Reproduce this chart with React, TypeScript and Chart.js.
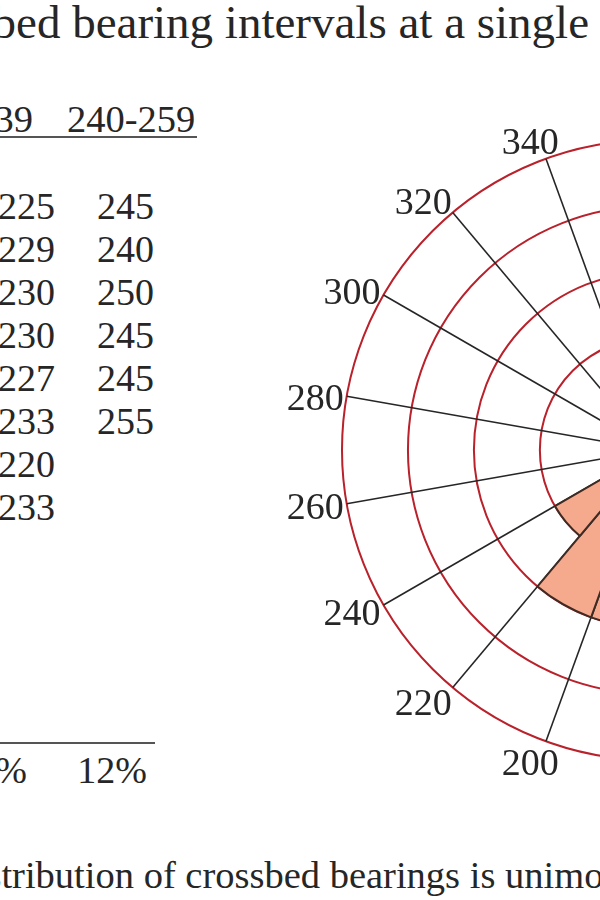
import React, { useEffect, useRef } from "react";
import { Chart, registerables } from "chart.js";

Chart.register(...registerables);

// ---------- data ----------
const bearingLabels = ["0", "20", "40", "60", "80", "100", "120", "140", "160", "180", "200", "220", "240", "260", "280", "300", "320", "340"];
// percentage of readings in each 20° sector (sector i starts at bearingLabels[i])
const sectorPercent: (number | null)[] = [null, null, null, null, null, null, null, null, null, 16, 16, 12, null, null, null, null, null, null];
const ringPercents = [8, 12, 16, 20, 24];
const scaleMinPercent = 5.2;
const scaleMaxPercent = 24;

const titleText = "Crossbed bearing intervals at a single location";
const tableHeaders = ["220-239", "240-259"];
const bearings220 = [225, 229, 230, 230, 227, 233, 220, 233];
const bearings240 = [245, 240, 250, 245, 245, 255];
const tablePercents = ["16%", "12%"];
const captionText = "The distribution of crossbed bearings is unimodal";

// ---------- styles ----------
const FONT = '"Liberation Serif", "Times New Roman", serif';
const TEXT = "#262626";
const RING = "#b9212b";
const SPOKE = "#262626";
const FILL = "#f5aa8d";
const EDGE = "#3d2b24";

type TProps = { x: number; base: number; size: number; align?: "left" | "right" | "center"; children: React.ReactNode };
function T({ x, base, size, align = "left", children }: TProps) {
  const tx = align === "right" ? "translateX(-100%)" : align === "center" ? "translateX(-50%)" : "none";
  return (
    <div
      style={{
        position: "absolute",
        left: x,
        top: base - 0.8375 * size,
        fontSize: size,
        lineHeight: `${size}px`,
        fontFamily: FONT,
        color: TEXT,
        whiteSpace: "nowrap",
        transform: tx,
      }}
    >
      {children}
    </div>
  );
}

const bearingLabelPlugin = {
  id: "bearingLabels",
  afterDatasetsDraw(chart: any) {
    const scale = chart.scales.r;
    const ctx = chart.ctx;
    const size = 38;
    ctx.save();
    ctx.font = `${size}px ${FONT}`;
    ctx.fillStyle = TEXT;
    ctx.textAlign = "center";
    ctx.textBaseline = "alphabetic";
    (chart.data.labels as string[]).forEach((lab, i) => {
      const tip = scale.getPointPosition(i, scale.drawingArea);
      const a = scale.getIndexAngle(i);
      const s = Math.sin(a);
      const c = Math.cos(a);
      const w = ctx.measureText(lab).width;
      const dx = Math.sign(s) * Math.min(w / 2 + 3, Math.abs(s) * 46);
      const dy = -Math.sign(c) * c * c * 22 + 1.5;
      ctx.fillText(lab, tip.x + dx, tip.y + dy + 0.338 * size);
    });
    ctx.restore();
  },
};

export default function App() {
  const ref = useRef<HTMLCanvasElement | null>(null);

  useEffect(() => {
    if (!ref.current) return;
    const chart = new Chart(ref.current, {
      type: "polarArea",
      data: {
        labels: bearingLabels,
        datasets: [
          {
            data: sectorPercent as any,
            backgroundColor: FILL,
            borderColor: EDGE,
            borderWidth: 2,
          },
        ],
      },
      options: {
        responsive: false,
        animation: false,
        layout: { padding: { left: 342, right: 342, top: 140, bottom: 140 } },
        plugins: { legend: { display: false }, tooltip: { enabled: false } },
        scales: {
          r: {
            min: scaleMinPercent,
            max: scaleMaxPercent,
            startAngle: 0,
            beginAtZero: false,
            ticks: { display: false, stepSize: 4 },
            afterBuildTicks: (s: any) => {
              s.ticks = [scaleMinPercent, ...ringPercents].map((v) => ({ value: v }));
            },
            grid: { circular: true, color: RING, lineWidth: 2 },
            angleLines: { display: true, color: SPOKE, lineWidth: 1.6 },
            pointLabels: { display: false },
          } as any,
        },
      },
      plugins: [bearingLabelPlugin],
    });
    return () => chart.destroy();
  }, []);

  const rowBase = 218.5;
  const rowStep = 43.1;
  const tableSize = 38;

  return (
    <div style={{ position: "fixed", left: 0, top: 0, width: 600, height: 900, overflow: "hidden", background: "#fff" }}>
      <T x={-114.5} base={38} size={47}>{titleText}</T>

      <T x={33} base={132.5} size={38.5} align="right">{tableHeaders[0]}</T>
      <T x={67} base={132.5} size={38.5}>{tableHeaders[1]}</T>
      <div style={{ position: "absolute", left: -10, top: 136, width: 207, height: 2, background: "#555" }} />

      {bearings220.map((v, i) => (
        <T key={"a" + i} x={55} base={rowBase + i * rowStep} size={tableSize} align="right">{String(v)}</T>
      ))}
      {bearings240.map((v, i) => (
        <T key={"b" + i} x={154} base={rowBase + i * rowStep} size={tableSize} align="right">{String(v)}</T>
      ))}

      <div style={{ position: "absolute", left: -10, top: 742, width: 165, height: 2, background: "#555" }} />
      <T x={27} base={783} size={tableSize} align="right">{tablePercents[0]}</T>
      <T x={147} base={783} size={tableSize} align="right">{tablePercents[1]}</T>

      <T x={-113} base={888} size={38.5}>{captionText}</T>

      <canvas
        ref={ref}
        width={1304}
        height={900}
        style={{ position: "absolute", left: 0, top: 0, width: 1304, height: 900 }}
      />
    </div>
  );
}
